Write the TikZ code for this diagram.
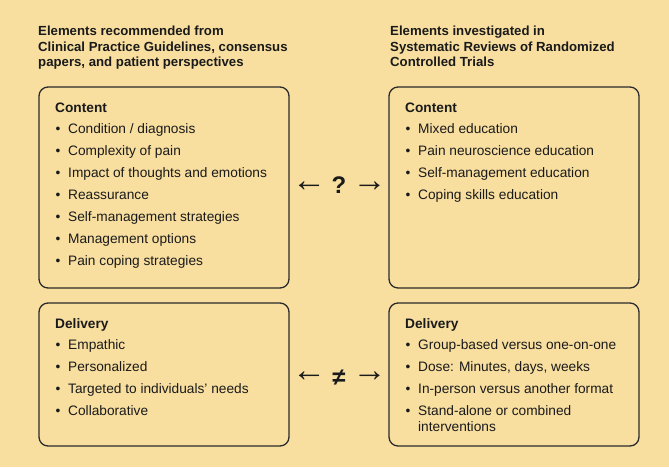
\documentclass[tikz,border=0pt]{standalone}
\usepackage{fontspec}
\setmainfont{Liberation Sans}
\definecolor{bg}{HTML}{F8DFA0}
\definecolor{edge}{HTML}{2B2B2B}
\definecolor{ink}{HTML}{1A1A1A}
\begin{document}
\begin{tikzpicture}[x=1pt,y=-1pt,
  panel/.style={draw=edge,line width=1.3pt,rounded corners=9pt,fill=bg},
  title/.style={anchor=base west,inner sep=0pt,font=\fontsize{13.2}{15.3}\selectfont\bfseries,text=ink,align=left},
  head/.style={anchor=base west,inner sep=0pt,font=\fontsize{13.7}{16}\selectfont\bfseries,text=ink},
  item/.style={anchor=base west,inner sep=0pt,font=\fontsize{13.7}{16}\selectfont,text=ink,align=left},
  bul/.style={anchor=base west,inner sep=0pt,font=\fontsize{13.7}{16}\selectfont,text=ink},
  arr/.style={anchor=center,inner sep=0pt,font=\fontsize{34}{36}\selectfont,text=ink},
  sym/.style={anchor=center,inner sep=0pt,font=\fontsize{24}{26}\selectfont\bfseries,text=ink}]
\fill[bg] (0,0) rectangle (669,467);
\useasboundingbox (0,0) rectangle (669,467);
% titles
\node[title] (tl1) at (38,35.7) {Elements recommended from};
\node[title] (tl2) at (38,51) {Clinical Practice Guidelines, consensus};
\node[title] (tl3) at (38,66.3) {papers, and patient perspectives};
\node[title] (tr1) at (390,35.7) {Elements investigated in};
\node[title] (tr2) at (390,51) {Systematic Reviews of Randomized};
\node[title] (tr3) at (390,66.3) {Controlled Trials};
% panels
\draw[panel] (39,87) rectangle (289,288);
\draw[panel] (389,87) rectangle (639,288);
\draw[panel] (39,303) rectangle (289,446);
\draw[panel] (389,303) rectangle (639,446);
% top-left content
\node[head] (hc1) at (55,112) {Content};
\foreach \t [count=\i] in {Condition / diagnosis,Complexity of pain,Impact of thoughts and emotions,Reassurance,Self-management strategies,Management options,Pain coping strategies}{
  \node[bul] (bc1\i) at (55.5,111+22*\i) {•};
  \node[item] (ic1\i) at (68,111+22*\i) {\t};
}
% top-right content
\node[head] (hc2) at (405,112) {Content};
\foreach \t [count=\i] in {Mixed education,Pain neuroscience education,Self-management education,Coping skills education}{
  \node[bul] (bc2\i) at (405.5,111+22*\i) {•};
  \node[item] (ic2\i) at (418,111+22*\i) {\t};
}
% bottom-left delivery
\node[head] (hd1) at (55,328) {Delivery};
\foreach \t [count=\i] in {Empathic,Personalized,Targeted to individuals’ needs,Collaborative}{
  \node[bul] (bd1\i) at (55.5,327+22*\i) {•};
  \node[item] (id1\i) at (68,327+22*\i) {\t};
}
% bottom-right delivery
\node[head] (hd2) at (405,328) {Delivery};
\foreach \t [count=\i] in {Group-based versus one-on-one,{Dose: Minutes, days, weeks},In-person versus another format,Stand-alone or combined}{
  \node[bul] (bd2\i) at (405.5,327+22*\i) {•};
  \node[item] (id2\i) at (418,327+22*\i) {\t};
}
\node[item] (id2x) at (418,431) {interventions};
% relations
\node[arr] (qa1) at (309,186.7) {←};
\node[sym] (q) at (339,185.5) {?};
\node[arr] (qa2) at (369.5,186.7) {→};
\node[arr] (na1) at (309,377) {←};
\node[sym] (ne) at (339,377.5) {≠};
\node[arr] (na2) at (369.5,377) {→};
\end{tikzpicture}
\end{document}
